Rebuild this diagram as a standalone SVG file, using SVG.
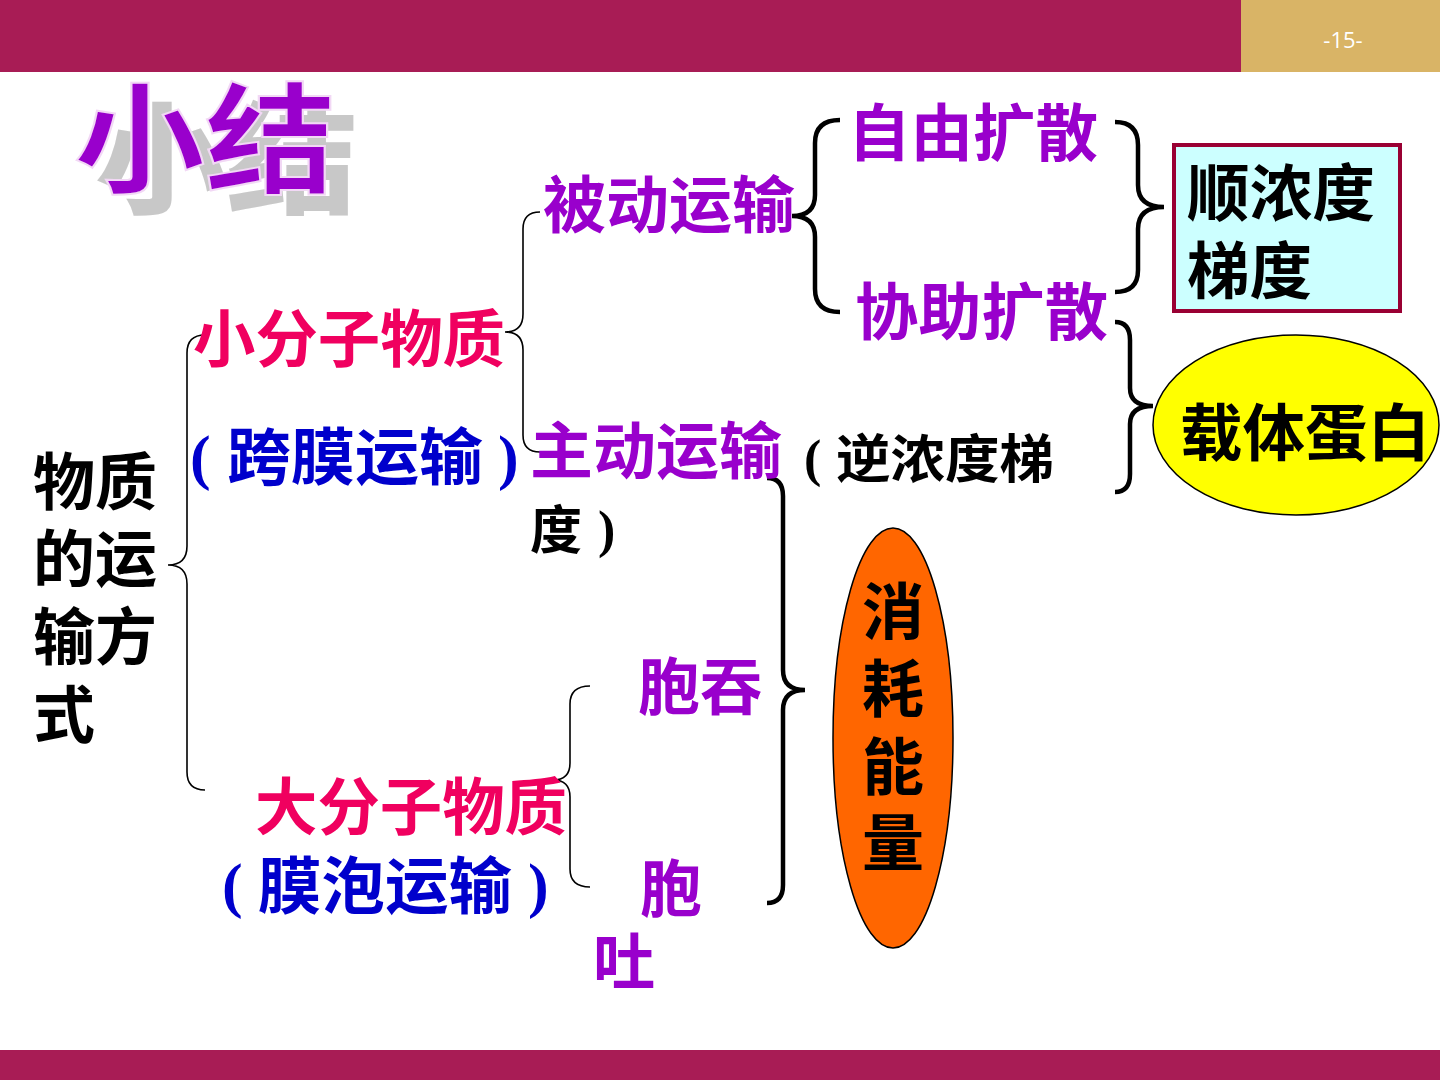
<svg xmlns="http://www.w3.org/2000/svg" width="1440" height="1080" viewBox="0 0 1440 1080">
<style>
.cjk{font-family:"Noto Sans CJK SC","Noto Sans",sans-serif;font-weight:bold;font-size:62px}
.par{font-family:"Liberation Serif","Noto Sans CJK SC",serif;font-weight:bold}
.pur{fill:#9900CC}
.red{fill:#F0005F}
.blu{fill:#0000CC}
.blk{fill:#000000}
.thin{fill:none;stroke:#000;stroke-width:1.6}
.thick{fill:none;stroke:#000;stroke-width:4.5}
</style>
<defs>
<filter id="shadow" x="-10%" y="-10%" width="130%" height="140%">
<feFlood flood-color="#C8C8C8" result="c"/>
<feComposite in="c" in2="SourceAlpha" operator="in" result="s"/>
<feOffset in="s" dx="22" dy="20" result="o"/>
<feMerge><feMergeNode in="o"/><feMergeNode in="SourceGraphic"/></feMerge>
</filter>
</defs>
<rect x="0" y="0" width="1440" height="1080" fill="#FFFFFF"/>
<g id="header">
<rect x="0" y="0" width="1241" height="72" fill="#A81C55"/>
<rect x="1241" y="0" width="199" height="72" fill="#D9B466"/>
<text x="1343" y="48" text-anchor="middle" font-family="Open Sans, sans-serif" font-size="22" fill="#FFFFFF">-15-</text>
<rect x="0" y="1050" width="1440" height="30" fill="#A81C55"/>
</g>
<g id="title">
<text x="74" y="184" class="cjk" style="font-size:120px" fill="#9900CC" stroke="#F2D8F5" stroke-width="2" textLength="262" lengthAdjust="spacingAndGlyphs" filter="url(#shadow)">小结</text>
</g>
<g id="connectors">
<path class="thin" d="M205 335 Q187 335 187 353 L187 546 Q187 565 168 565 Q187 565 187 584 L187 772 Q187 790 205 790"/>
<path class="thin" d="M540 212 Q523 212 523 229 L523 314 Q523 332 505 332 Q523 332 523 350 L523 435 Q523 452 540 452"/>
<path class="thick" d="M840 120 Q815 120 815 143 L815 195 Q815 216 792 216 Q815 216 815 237 L815 289 Q815 312 840 312"/>
<path class="thin" d="M590 686 Q570 686 570 704 L570 763 Q570 780 553 780 Q570 780 570 797 L570 869 Q570 887 590 887"/>
<path class="thick" d="M1115 122 Q1138 122 1138 145 L1138 185 Q1138 207 1164 207 Q1138 207 1138 229 L1138 270 Q1138 292 1115 292"/>
<path class="thick" d="M1115 322 Q1130 322 1130 340 L1130 388 Q1130 406 1153 406 Q1130 406 1130 424 L1130 474 Q1130 492 1115 492"/>
<path class="thick" d="M767 478 Q783 478 783 496 L783 670 Q783 690 805 690 Q783 690 783 710 L783 885 Q783 903 767 903"/>
</g>
<g id="node-main">
<text class="cjk blk"><tspan x="33" y="505">物质</tspan><tspan x="33" y="582">的运</tspan><tspan x="33" y="660">输方</tspan><tspan x="33" y="738">式</tspan></text>
</g>
<g id="node-small">
<text class="cjk red" x="193" y="362" textLength="312" lengthAdjust="spacingAndGlyphs">小分子物质</text>
<text class="cjk blu"><tspan class="par" x="190" y="478" font-size="62">(</tspan><tspan x="227" y="480" textLength="256" lengthAdjust="spacingAndGlyphs">跨膜运输</tspan><tspan class="par" x="498" y="478" font-size="62">)</tspan></text>
</g>
<g id="node-passive">
<text class="cjk pur" x="543" y="228" textLength="252" lengthAdjust="spacingAndGlyphs">被动运输</text>
</g>
<g id="node-free">
<text class="cjk pur" x="848" y="156" textLength="250" lengthAdjust="spacingAndGlyphs">自由扩散</text>
</g>
<g id="node-facilitated">
<text class="cjk pur" x="855" y="335" textLength="253" lengthAdjust="spacingAndGlyphs">协助扩散</text>
</g>
<g id="node-active">
<text class="cjk pur" x="530" y="474" textLength="252" lengthAdjust="spacingAndGlyphs">主动运输</text>
<text class="cjk blk" style="font-size:52px"><tspan class="par" x="804" y="476">(</tspan><tspan x="836" y="478" textLength="218" lengthAdjust="spacingAndGlyphs">逆浓度梯</tspan><tspan x="530" y="549">度</tspan><tspan class="par" x="598" y="547">)</tspan></text>
</g>
<g id="node-gradient">
<rect x="1174" y="145" width="226" height="166" fill="#CCFFFF" stroke="#990033" stroke-width="4"/>
<text class="cjk blk"><tspan x="1187" y="216" textLength="188" lengthAdjust="spacingAndGlyphs">顺浓度</tspan><tspan x="1187" y="294" textLength="125" lengthAdjust="spacingAndGlyphs">梯度</tspan></text>
</g>
<g id="node-carrier">
<ellipse cx="1296" cy="425" rx="143" ry="90" fill="#FFFF00" stroke="#000" stroke-width="1.5"/>
<text class="cjk blk" x="1180" y="456" textLength="250" lengthAdjust="spacingAndGlyphs">载体蛋白</text>
</g>
<g id="node-energy">
<ellipse cx="893" cy="738" rx="60" ry="210" fill="#FF6600" stroke="#000" stroke-width="1.5"/>
<text class="cjk blk" text-anchor="middle"><tspan x="893" y="635">消</tspan><tspan x="893" y="712">耗</tspan><tspan x="893" y="790">能</tspan><tspan x="893" y="866">量</tspan></text>
</g>
<g id="node-large">
<text class="cjk red" x="255" y="830" textLength="312" lengthAdjust="spacingAndGlyphs">大分子物质</text>
<text class="cjk blu"><tspan class="par" x="222" y="906" font-size="62">(</tspan><tspan x="258" y="909" textLength="254" lengthAdjust="spacingAndGlyphs">膜泡运输</tspan><tspan class="par" x="528" y="906" font-size="62">)</tspan></text>
</g>
<g id="node-endocytosis">
<text class="cjk pur" x="638" y="710" textLength="124" lengthAdjust="spacingAndGlyphs">胞吞</text>
</g>
<g id="node-exocytosis">
<text class="cjk pur"><tspan x="640" y="912">胞</tspan><tspan x="593" y="985">吐</tspan></text>
</g>
</svg>
